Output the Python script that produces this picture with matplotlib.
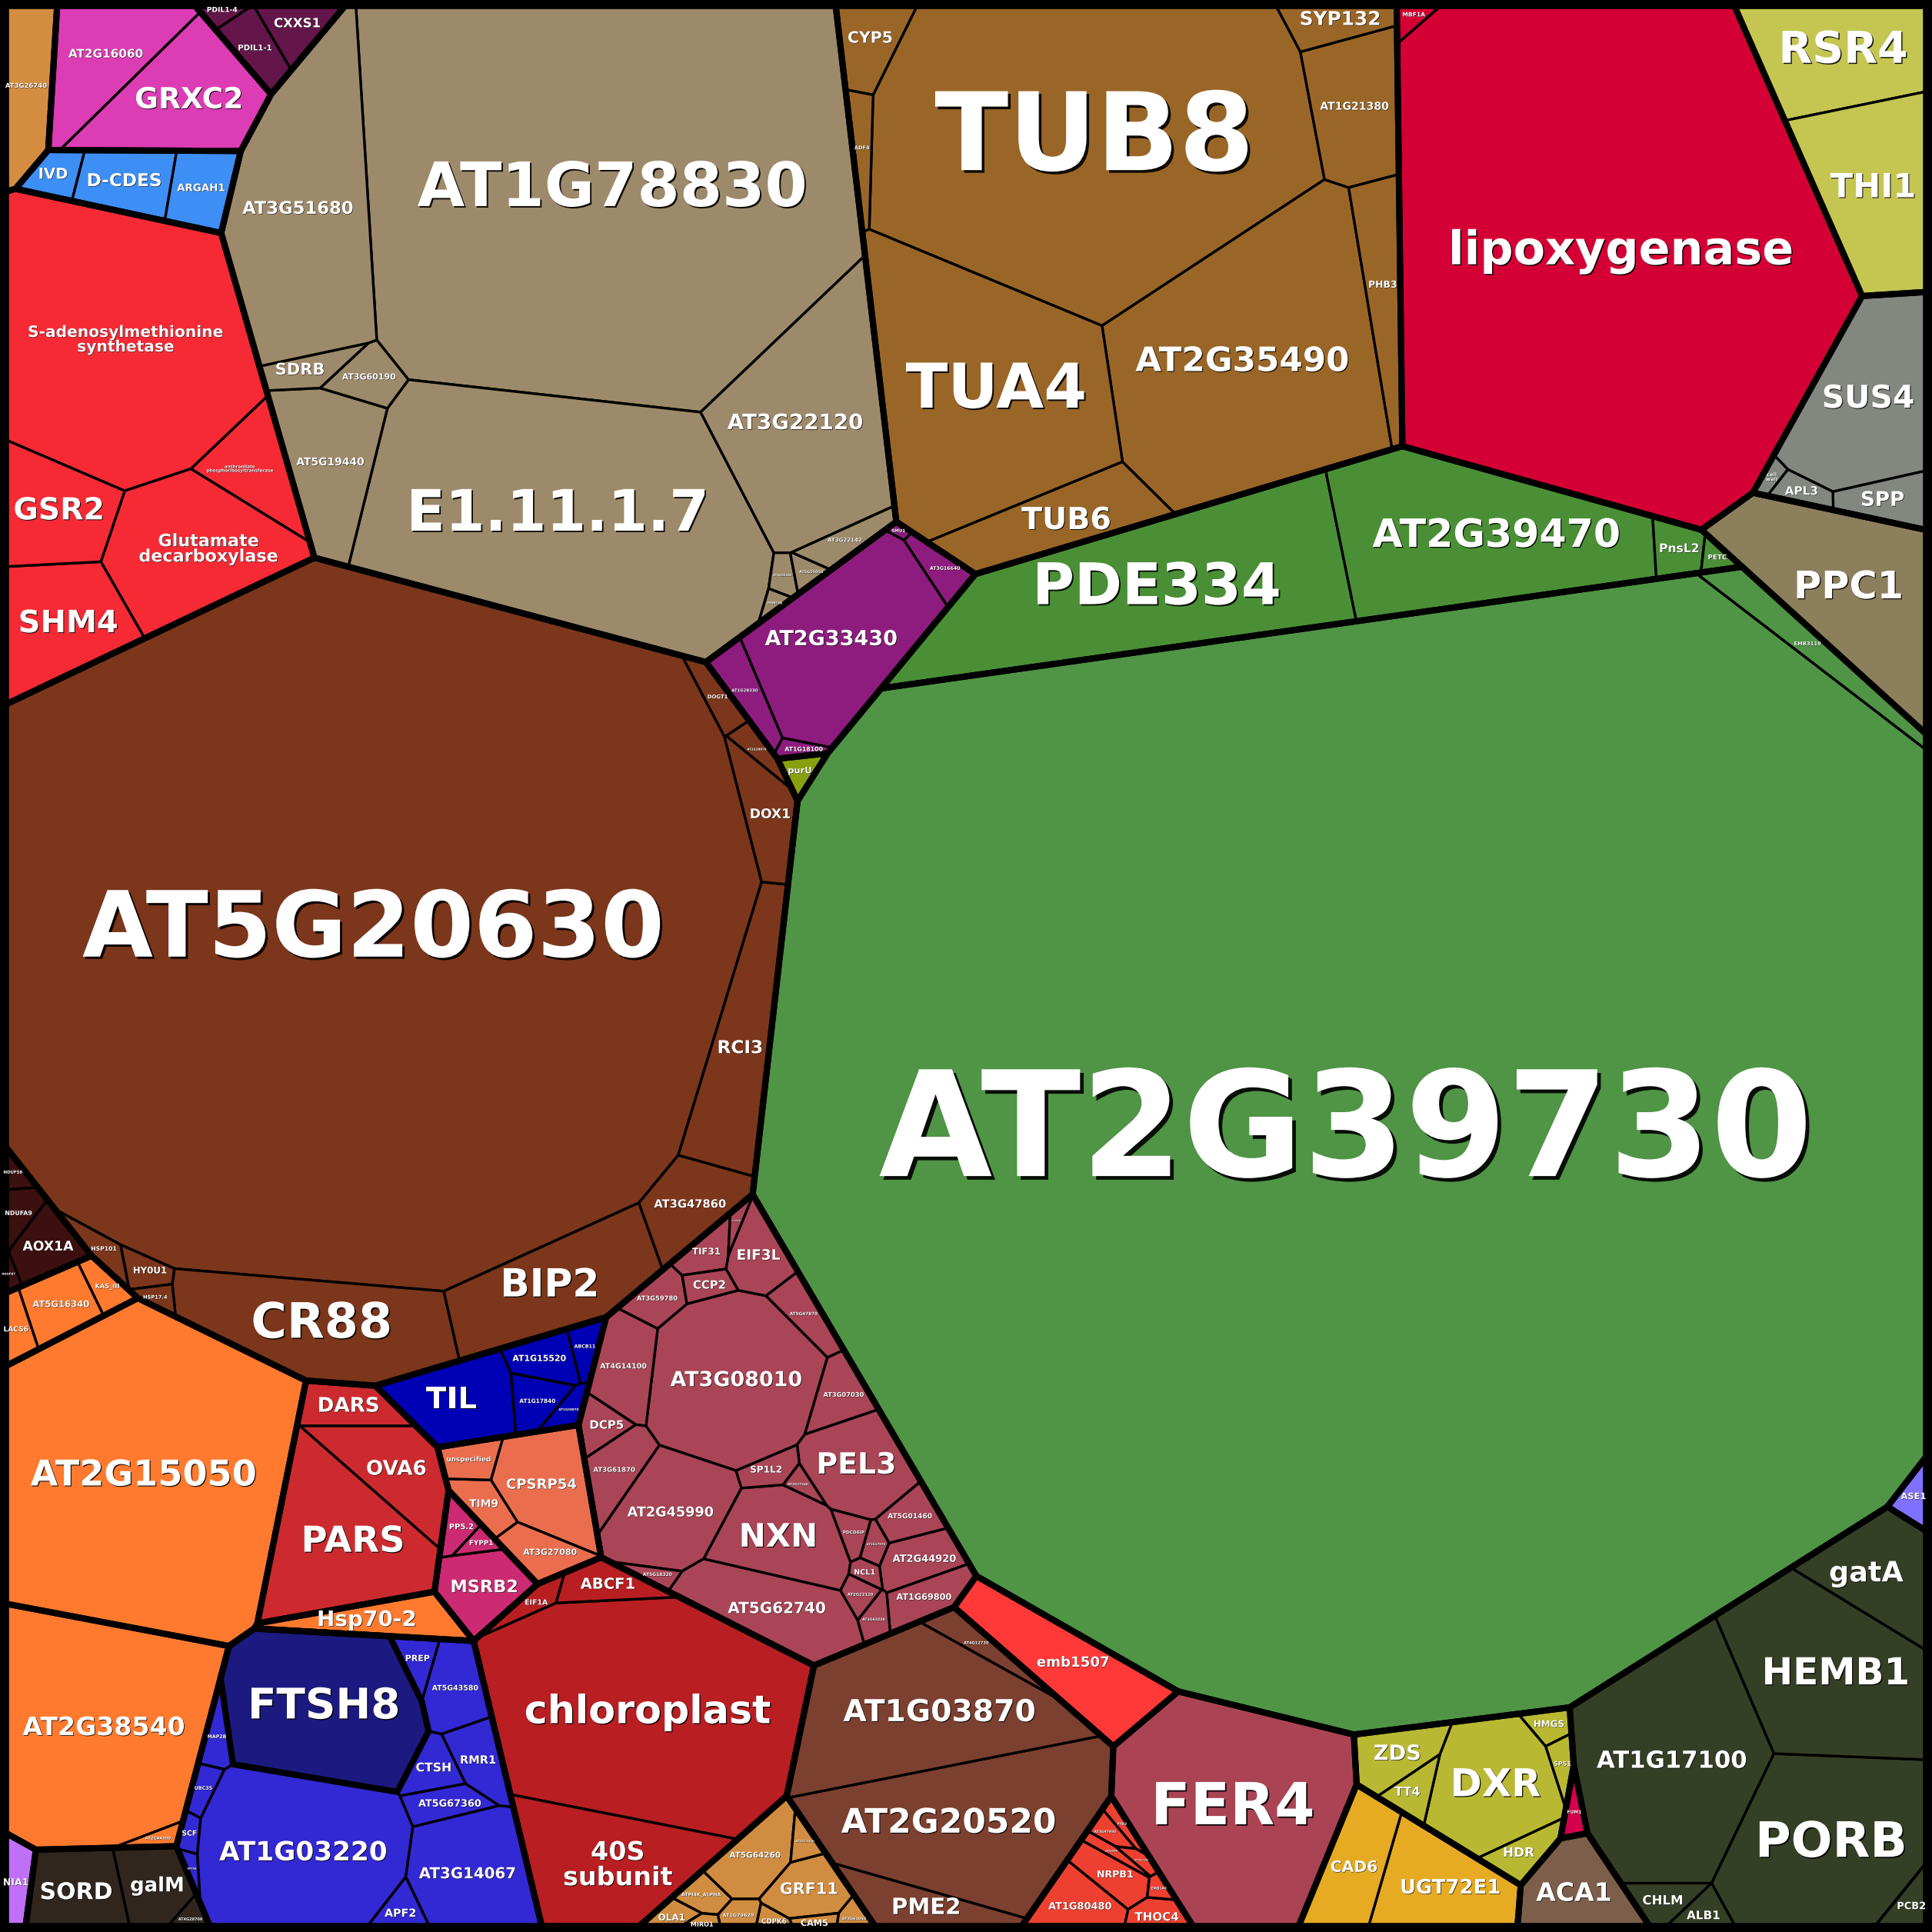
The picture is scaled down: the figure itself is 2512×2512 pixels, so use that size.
import math
import re
import numpy as np
import matplotlib
matplotlib.use("Agg")
import matplotlib.pyplot as plt
import matplotlib.patheffects as pe
from matplotlib.patches import Polygon, Rectangle
from matplotlib.textpath import TextPath
from matplotlib.font_manager import FontProperties

# ----------------------------------------------------------------------
# Data: protein names and abundances (cell areas), one list pair per group
# ----------------------------------------------------------------------
ORANGETAN = ["AT3G26740"]
ORANGETAN_V = [5800]
MAGENTA = ["AT2G16060", "GRXC2"]
MAGENTA_V = [7800, 9950]
DARKPURPLE = ["CXXS1", "PDIL1-1", "PDIL1-4"]
DARKPURPLE_V = [2200, 1900, 650]
TAN = ["AT1G78830", "E1.11.1.7", "AT3G51680", "AT3G22120", "AT5G19440", "AT3G60190",
       "SDRB", "AT3G22142", "AT4G25260", "AT5G55050", "PRMT4B"]
TAN_V = [114500, 53100, 24050, 21100, 8300, 2000, 1600, 1500, 600, 500, 300]
BRONZE = ["TUB8", "AT2G35490", "TUA4", "AT1G21380", "TUB6", "PHB3", "CYP5", "SYP132", "ADF4"]
BRONZE_V = [72100, 40200, 33400, 7800, 7500, 5200, 3300, 2800, 1500]
CRIMSON = ["lipoxygenase", "MBF1A"]
CRIMSON_V = [123600, 700]
YELLOWGREEN = ["RSR4", "THI1"]
YELLOWGREEN_V = [11800, 13300]
GREY = ["SUS4", "SPP", "APL3", "cell wall"]
GREY_V = [13900, 2500, 900, 400]
OLIVE = ["PPC1"]
OLIVE_V = [17830]
GREEN_A = ["PDE334", "AT2G39470", "PnsL2", "PETC"]
GREEN_A_V = [32900, 24700, 1600, 500]
GREEN_B = ["AT2G39730", "EMB3119"]
GREEN_B_V = [700000, 4000]
PURU = ["purU"]
PURU_V = [700]
PURPLE = ["AT2G33430", "AT1G28330", "AT3G16640", "AT1G18100", "SMU1"]
PURPLE_V = [15500, 2000, 1300, 450, 150]
BROWN = ["AT5G20630", "CR88", "BIP2", "RCI3", "AT3G47860", "DOX1", "DOGT1", "AT2G38870",
         "HSP101", "HY0U1", "HSP17.4"]
BROWN_V = [283900, 14700, 11100, 9600, 4500, 3500, 1200, 800, 1000, 900, 500]
RED = ["S-adenosylmethionine synthetase", "Glutamate decarboxylase", "SHM4", "GSR2",
       "anthranilate phosphoribosyltransferase"]
RED_V = [39000, 13150, 8900, 7300, 4500]
BLUE = ["IVD", "D-CDES", "ARGAH1"]
BLUE_V = [1400, 3600, 2950]
MAROON = ["AOX1A", "NDUFA9", "NDUFS8", "NDUFB7"]
MAROON_V = [2300, 1200, 600, 400]
ORANGE1 = ["AT5G16340", "LACS6", "KAS_III"]
ORANGE1_V = [2700, 1300, 1000]
ORANGE2 = ["AT2G15050"]
ORANGE2_V = [51900]
ORANGE3 = ["AT2G38540", "AT2G44300"]
ORANGE3_V = [28200, 500]
HSP = ["Hsp70-2"]
HSP_V = [3500]
RED2A = ["PARS", "OVA6", "DARS"]
RED2A_V = [12900, 5500, 2500]
PINK = ["MSRB2", "PP5.2", "FYPP1"]
PINK_V = [3600, 900, 450]
SALMON = ["CPSRP54", "AT3G27080", "TIM9", "unspecified"]
SALMON_V = [5800, 2000, 1400, 1300]
DARKBLUE = ["TIL", "AT1G15520", "AT1G17840", "ABCB11", "AT1G59870"]
DARKBLUE_V = [5500, 1800, 1500, 900, 700]
MAUVE = ["AT3G08010", "AT2G45990", "AT5G62740", "NXN", "PEL3", "AT4G14100", "EIF3L",
         "AT3G61870", "AT2G44920", "AT3G07030", "AT1G69800", "AT5G47870", "AT3G59780",
         "AT5G01460", "TIF31", "DCP5", "SP1L2", "CCP2", "PDCD6IP", "AT1G63220",
         "AT2G22120", "AT2G17970", "AT2G17240", "NCL1", "AT5G18320", "AT3G08800"]
MAUVE_V = [15200, 7400, 7000, 6400, 5500, 3500, 2500, 2500, 2200, 2000, 2000, 1600, 1500,
           1500, 1200, 1200, 1000, 800, 700, 700, 600, 500, 400, 400, 500, 300]
RED2B = ["chloroplast", "40S subunit", "ABCF1", "EIF1A"]
RED2B_V = [39000, 12000, 2000, 900]
BPURPLE = ["AT1G03220", "FTSH8", "AT3G14067", "AT5G43580", "RMR1", "CTSH", "AT5G67360",
           "APF2", "PREP", "MAP2B", "UBC35", "SCF", "RPT5A"]
BPURPLE_V = [19000, 17000, 8500, 3000, 2200, 1500, 1500, 1200, 1000, 1000, 700, 450, 300]
SORD = ["SORD", "galM", "AT4G28706"]
SORD_V = [4800, 3300, 600]
NIA = ["NIA1"]
NIA_V = [1800]
TAN2 = ["AT5G64260", "GRF11", "ATPI4K_ALPHA", "OLA1", "AT1G79620", "AT3G61050", "CAM5",
        "CDPK6", "MIRO1", "AT1G11340"]
TAN2_V = [3200, 2500, 900, 750, 750, 580, 460, 460, 380, 580]
BROWN2 = ["AT2G20520", "AT1G03870", "PME2", "AT4G12730"]
BROWN2_V = [22000, 19500, 4000, 1500]
EMB = ["emb1507"]
EMB_V = [8400]
FER = ["FER4"]
FER_V = [27000]
RED3 = ["AT1G80480", "NRPB1", "THOC4", "AT1G47490", "PTB3", "LKR/SDH", "AT5G61190", "EMB140"]
RED3_V = [2900, 1650, 1200, 500, 400, 400, 300, 300]
YELLOW = ["DXR", "ZDS", "HDR", "TT4", "HMGS", "SPS1"]
YELLOW_V = [9000, 2800, 1500, 1200, 800, 700]
GOLD = ["UGT72E1", "CAD6"]
GOLD_V = [7500, 5300]
FUM = ["FUM1"]
FUM_V = [600]
ACA = ["ACA1"]
ACA_V = [5500]
DARKOLIVE = ["AT1G17100", "PORB", "HEMB1", "gatA", "CHLM", "PCB2", "ALB1"]
DARKOLIVE_V = [23500, 20000, 18200, 7000, 1500, 1500, 1200]
ASE = ["ASE1"]
ASE_V = [1200]

# ----------------------------------------------------------------------
# Layout hints: starting site of every cell (canvas units, 1568 wide, y down)
# ----------------------------------------------------------------------
ORANGETAN_XY = [(28, 78)]
MAGENTA_XY = [(95, 50), (150, 106)]
DARKPURPLE_XY = [(228, 25), (192, 47), (160, 47)]
TAN_XY = [(490, 160), (460, 430), (250, 175), (652, 330), (278, 385), (300, 312),
          (273, 283), (695, 425), (652, 458), (683, 452), (642, 484)]
BRONZE_XY = [(870, 110), (985, 285), (785, 315), (1055, 75), (835, 437), (1105, 265),
             (712, 32), (1040, 20), (698, 105)]
CRIMSON_XY = [(1290, 200), (1128, 15)]
YELLOWGREEN_XY = [(1485, 48), (1508, 160)]
GREY_XY = [(1512, 305), (1530, 385), (1472, 386), (1433, 372)]
OLIVE_XY = [(1480, 465)]
GREEN_A_XY = [(910, 490), (1180, 435), (1345, 425), (1372, 428)]
GREEN_B_XY = [(1100, 925), (1430, 495)]
PURU_XY = [(682, 625)]
PURPLE_XY = [(675, 535), (597, 568), (757, 481), (652, 645), (722, 447)]
BROWN_XY = [(300, 770), (275, 1068), (420, 1035), (595, 860), (560, 985), (612, 690),
            (600, 612), (634, 663), (143, 1060), (174, 1054), (177, 1078)]
RED_XY = [(105, 280), (160, 445), (55, 505), (50, 408), (200, 380)]
BLUE_XY = [(32, 160), (98, 170), (168, 182)]
MAROON_XY = [(51, 1037), (20, 1009), (17, 968), (16, 1056)]
ORANGE1_XY = [(64, 1082), (20, 1090), (103, 1063)]
ORANGE2_XY = [(122, 1200)]
ORANGE3_XY = [(85, 1390), (122, 1487)]
HSP_XY = [(300, 1305)]
RED2A_XY = [(268, 1262), (318, 1205), (318, 1146)]
PINK_XY = [(378, 1262), (370, 1215), (360, 1173)]
SALMON_XY = [(443, 1186), (419, 1245), (397, 1215), (386, 1157)]
DARKBLUE_XY = [(375, 1118), (443, 1087), (438, 1113), (484, 1062), (462, 1133)]
MAUVE_XY = [(605, 1095), (570, 1200), (630, 1305), (645, 1240), (707, 1170), (522, 1085),
            (623, 1003), (512, 1160), (750, 1243), (690, 1120), (762, 1277), (655, 1045),
            (550, 1030), (742, 1212), (582, 996), (492, 1130), (640, 1178), (586, 1024),
            (693, 1222), (716, 1281), (697, 1266), (714, 1228), (665, 1197), (705, 1249),
            (562, 1258), (608, 968)]
RED2B_XY = [(515, 1370), (487, 1512), (510, 1232), (466, 1245)]
BPURPLE_XY = [(250, 1497), (270, 1378), (378, 1515), (372, 1355), (390, 1407), (357, 1423),
              (362, 1450), (313, 1546), (347, 1322), (186, 1390), (170, 1458), (154, 1488),
              (150, 1503)]
SORD_XY = [(60, 1535), (120, 1522), (152, 1550)]
NIA_XY = [(14, 1521)]
TAN2_XY = [(610, 1494), (653, 1531), (580, 1525), (569, 1546), (610, 1552), (681, 1554),
           (655, 1550), (638, 1558), (577, 1559), (644, 1497)]
BROWN2_XY = [(750, 1478), (733, 1392), (730, 1548), (773, 1320)]
EMB_XY = [(848, 1322)]
FER_XY = [(958, 1452)]
RED3_XY = [(835, 1538), (838, 1503), (885, 1543), (870, 1487), (862, 1464), (850, 1481),
           (878, 1502), (887, 1519)]
YELLOW_XY = [(1180, 1445), (1105, 1416), (1207, 1503), (1068, 1421), (1233, 1400), (1245, 1424)]
GOLD_XY = [(1150, 1527), (1075, 1505)]
FUM_XY = [(1258, 1457)]
ACA_XY = [(1272, 1530)]
DARKOLIVE_XY = [(1340, 1425), (1475, 1490), (1480, 1365), (1527, 1288), (1340, 1532),
                (1543, 1545), (1360, 1553)]
ASE_XY = [(1550, 1237)]

GROUPS = [
    ("orangetan", "#d38c40", ORANGETAN, ORANGETAN_V, ORANGETAN_XY),
    ("magenta", "#dc3cb4", MAGENTA, MAGENTA_V, MAGENTA_XY),
    ("darkpurple", "#64154a", DARKPURPLE, DARKPURPLE_V, DARKPURPLE_XY),
    ("tan", "#9d8a6a", TAN, TAN_V, TAN_XY),
    ("bronze", "#9a6628", BRONZE, BRONZE_V, BRONZE_XY),
    ("crimson", "#d40035", CRIMSON, CRIMSON_V, CRIMSON_XY),
    ("yellowgreen", "#c5c652", YELLOWGREEN, YELLOWGREEN_V, YELLOWGREEN_XY),
    ("grey", "#828880", GREY, GREY_V, GREY_XY),
    ("olive", "#8c7f5c", OLIVE, OLIVE_V, OLIVE_XY),
    ("greenA", "#4a8f35", GREEN_A, GREEN_A_V, GREEN_A_XY),
    ("greenB", "#509446", GREEN_B, GREEN_B_V, GREEN_B_XY),
    ("purU", "#88a010", PURU, PURU_V, PURU_XY),
    ("purple", "#8e1c7e", PURPLE, PURPLE_V, PURPLE_XY),
    ("brown", "#7b361b", BROWN, BROWN_V, BROWN_XY),
    ("red", "#f52a35", RED, RED_V, RED_XY),
    ("blue", "#3d8ef5", BLUE, BLUE_V, BLUE_XY),
    ("maroon", "#3c1010", MAROON, MAROON_V, MAROON_XY),
    ("orange1", "#ff7a2e", ORANGE1, ORANGE1_V, ORANGE1_XY),
    ("orange2", "#ff7a2e", ORANGE2, ORANGE2_V, ORANGE2_XY),
    ("orange3", "#ff7a2e", ORANGE3, ORANGE3_V, ORANGE3_XY),
    ("hsp", "#ff7a2e", HSP, HSP_V, HSP_XY),
    ("red2a", "#cc2a2e", RED2A, RED2A_V, RED2A_XY),
    ("pink", "#cc2a72", PINK, PINK_V, PINK_XY),
    ("salmon", "#ea6e4e", SALMON, SALMON_V, SALMON_XY),
    ("darkblue", "#0000b4", DARKBLUE, DARKBLUE_V, DARKBLUE_XY),
    ("mauve", "#a94556", MAUVE, MAUVE_V, MAUVE_XY),
    ("red2b", "#b81e22", RED2B, RED2B_V, RED2B_XY),
    ("bpurple", "#3228d4", BPURPLE, BPURPLE_V, BPURPLE_XY),
    ("sord", "#30261e", SORD, SORD_V, SORD_XY),
    ("nia", "#c070f8", NIA, NIA_V, NIA_XY),
    ("tan2", "#d08c40", TAN2, TAN2_V, TAN2_XY),
    ("brown2", "#7c4030", BROWN2, BROWN2_V, BROWN2_XY),
    ("emb", "#ff3838", EMB, EMB_V, EMB_XY),
    ("fer", "#aa4454", FER, FER_V, FER_XY),
    ("red3", "#ee4030", RED3, RED3_V, RED3_XY),
    ("yellow", "#b9b832", YELLOW, YELLOW_V, YELLOW_XY),
    ("gold", "#e6ab22", GOLD, GOLD_V, GOLD_XY),
    ("fum", "#d4004e", FUM, FUM_V, FUM_XY),
    ("aca", "#7c5e4a", ACA, ACA_V, ACA_XY),
    ("darkolive", "#343f26", DARKOLIVE, DARKOLIVE_V, DARKOLIVE_XY),
    ("ase", "#8070ff", ASE, ASE_V, ASE_XY),
]
# groups that sit together inside one top-level cell
CLUSTER = {"greenA": "green", "greenB": "green"}
# small nudges of a group's site (canvas units)
GROUP_SHIFT = {"blue": (35, 6), "magenta": (22, 4)}
LEAF_COLOR = {"FTSH8": "#1c1a80"}
THICK_LEAVES = {"FTSH8"}

S = 1568.0
PT = 2512.0 / S * 0.72          # points per canvas unit
LW_GROUP = 5.8
LW_LEAF = 2.4


# ----------------------------------------------------------------------
# Power diagram (weighted Voronoi) with area targets -> Voronoi treemap
# ----------------------------------------------------------------------
def clip(pts, labs, a, b, c, lab):
    out_p, out_l = [], []
    n = len(pts)
    for k in range(n):
        x1, y1 = pts[k]
        x2, y2 = pts[(k + 1) % n]
        d1 = a * x1 + b * y1 - c
        d2 = a * x2 + b * y2 - c
        if d1 <= 0:
            out_p.append((x1, y1))
            out_l.append(labs[k])
            if d2 > 0:
                t = d1 / (d1 - d2)
                out_p.append((x1 + t * (x2 - x1), y1 + t * (y2 - y1)))
                out_l.append(lab)
        elif d2 <= 0:
            t = d1 / (d1 - d2)
            out_p.append((x1 + t * (x2 - x1), y1 + t * (y2 - y1)))
            out_l.append(labs[k])
    return out_p, out_l


def power_cells(poly, sites, w):
    n = len(sites)
    cells = []
    for i in range(n):
        xi, yi = sites[i]
        pts, labs = list(poly), [-1] * len(poly)
        order = sorted(range(n), key=lambda j: (sites[j][0] - xi) ** 2 + (sites[j][1] - yi) ** 2)
        for j in order:
            if j == i:
                continue
            xj, yj = sites[j]
            a = 2 * (xj - xi)
            b = 2 * (yj - yi)
            c = xj * xj + yj * yj - xi * xi - yi * yi - w[j] + w[i]
            pts, labs = clip(pts, labs, a, b, c, j)
            if len(pts) < 3:
                break
        cells.append((pts, labs))
    return cells


def poly_area(pts):
    n = len(pts)
    if n < 3:
        return 0.0
    s = 0.0
    for k in range(n):
        x1, y1 = pts[k]
        x2, y2 = pts[(k + 1) % n]
        s += x1 * y2 - x2 * y1
    return abs(s) / 2


def centroid(pts):
    p = np.asarray(pts, float)
    x, y = p[:, 0], p[:, 1]
    x2, y2 = np.roll(x, -1), np.roll(y, -1)
    cr = x * y2 - x2 * y
    a = cr.sum() / 2
    if abs(a) < 1e-9:
        return x.mean(), y.mean()
    return ((x + x2) * cr).sum() / (6 * a), ((y + y2) * cr).sum() / (6 * a)


def layout(poly, sites, values, iters=120, tol=0.003):
    n = len(sites)
    if n == 1:
        return [list(poly)]
    total = poly_area(poly)
    T = np.asarray(values, float)
    T = T / T.sum() * total
    w = np.zeros(n)
    cells = power_cells(poly, sites, w)
    A = np.array([poly_area(c[0]) for c in cells])
    eps = 0.25 * min(T.min(), A.min())
    err = np.linalg.norm(T - A)
    for _ in range(iters):
        if np.all(np.abs(T - A) <= tol * T):
            break
        J = np.zeros((n, n))
        for i, (pts, labs) in enumerate(cells):
            m = len(pts)
            for k in range(m):
                j = labs[k]
                if j < 0:
                    continue
                x1, y1 = pts[k]
                x2, y2 = pts[(k + 1) % m]
                L = math.hypot(x2 - x1, y2 - y1)
                d = math.hypot(sites[i][0] - sites[j][0], sites[i][1] - sites[j][1])
                g = L / (2 * d)
                J[i, j] -= g
                J[i, i] += g
        dw = np.linalg.lstsq(J + 1.0 / n, T - A, rcond=None)[0]
        alpha, ok = 1.0, False
        while alpha > 1e-5:
            w2 = w + alpha * dw
            c2 = power_cells(poly, sites, w2)
            A2 = np.array([poly_area(c[0]) for c in c2])
            e2 = np.linalg.norm(T - A2)
            if A2.min() > eps and e2 <= (1 - alpha / 2) * err:
                ok = True
                break
            alpha *= 0.5
        if not ok:
            break
        w, cells, A, err = w2, c2, A2, e2
    return [c[0] for c in cells]


def inside(pts, x, y):
    res = False
    n = len(pts)
    for k in range(n):
        x1, y1 = pts[k]
        x2, y2 = pts[(k + 1) % n]
        if (y1 > y) != (y2 > y):
            if x < x1 + (y - y1) * (x2 - x1) / (y2 - y1):
                res = not res
    return res


def pull_inside(pts, x, y):
    cx, cy = centroid(pts)
    t = 1.0
    while t > 0 and not inside(pts, cx + t * (x - cx), cy + t * (y - cy)):
        t -= 0.04
    if t < 1.0:
        t = max(t * 0.9, 0.0)
    return cx + t * (x - cx), cy + t * (y - cy)


def seeds_in(poly, xy):
    out = []
    for k, (x, y) in enumerate(xy):
        sx, sy = pull_inside(poly, x, y)
        out.append((sx + 0.013 * k, sy + 0.007 * k))
    return out


def weighted_seed(vals, xy):
    v = np.asarray(vals, float)
    p = np.asarray(xy, float)
    return tuple((p * v[:, None]).sum(0) / v.sum())


def group_seed(g):
    x, y = weighted_seed(g[3], g[4])
    dx, dy = GROUP_SHIFT.get(g[0], (0, 0))
    return (x + dx, y + dy)


# ----------------------------------------------------------------------
# Label fitting
# ----------------------------------------------------------------------
FP = FontProperties(family="DejaVu Sans", weight="bold")
_wc = {}


def text_w(line):
    if line not in _wc:
        _wc[line] = TextPath((0, 0), line, size=1, prop=FP).get_extents().width
    return _wc[line]


def chord(pts, v, axis):
    hits = []
    n = len(pts)
    o = 1 - axis
    for k in range(n):
        p, q = pts[k], pts[(k + 1) % n]
        if (p[axis] <= v < q[axis]) or (q[axis] <= v < p[axis]):
            hits.append(p[o] + (v - p[axis]) * (q[o] - p[o]) / (q[axis] - p[axis]))
    if len(hits) < 2:
        return None
    return min(hits), max(hits)


def variants(name):
    out = [[name]]
    words = name.split(" ")
    if len(words) > 1:
        out.append(words)
    parts = []
    for wd in words:
        parts += [p for p in re.split(r"(?<=-)", wd) if p]
    if len(parts) > len(words) and (len(words) > 1 or len(parts[0]) >= 4):
        out.append(parts)
    return out


def fit_label(pts, area, name):
    cx, cy = centroid(pts)
    ch = chord(pts, cy, 1)
    if ch is None:
        return None
    cx = 0.5 * (ch[0] + ch[1])
    best = None
    for lines in variants(name):
        wpe = max(text_w(l) for l in lines)
        n = len(lines)
        hpe = 0.9 if n == 1 else 1.17 * n - 0.15
        s_top = 0.32 * math.sqrt(area)
        s = s_top
        for _ in range(4):
            h = s * hpe
            av = 1e9
            for yy in np.linspace(cy - h / 2, cy + h / 2, 7):
                c = chord(pts, yy, 1)
                if c is None:
                    av = 0
                    break
                av = min(av, 2 * min(cx - c[0], c[1] - cx))
            s = min(s_top, 0.8 * max(av, 0) / wpe)
        cv = chord(pts, cx, 0)
        if cv is not None:
            s = min(s, 0.8 * 2 * min(cy - cv[0], cv[1] - cy) / hpe)
        score = s / (1 + 0.25 * (n - 1))
        if best is None or score > best[0]:
            best = (score, s, lines)
    return cx, cy, best[1], "\n".join(best[2])


# ----------------------------------------------------------------------
# Build the treemap: top cells -> groups -> proteins
# ----------------------------------------------------------------------
square = [(0.0, 0.0), (S, 0.0), (S, S), (0.0, S)]
units = {}
for gi, g in enumerate(GROUPS):
    units.setdefault(CLUSTER.get(g[0], g[0]), []).append(gi)
unit_keys = list(units)
unit_vals = [sum(sum(GROUPS[gi][3]) for gi in units[k]) for k in unit_keys]
unit_seeds = [weighted_seed([sum(GROUPS[gi][3]) for gi in units[k]],
                            [group_seed(GROUPS[gi]) for gi in units[k]])
              for k in unit_keys]
ucells = layout(square, unit_seeds, unit_vals)

gcells = [None] * len(GROUPS)
for key, ucell in zip(unit_keys, ucells):
    members = units[key]
    if len(members) == 1:
        gcells[members[0]] = ucell
        continue
    mseeds = seeds_in(ucell, [group_seed(GROUPS[gi]) for gi in members])
    sub = layout(ucell, mseeds, [sum(GROUPS[gi][3]) for gi in members])
    for gi, c in zip(members, sub):
        gcells[gi] = c

leaf_polys = []
for gi, (gid, color, names, vals, xy) in enumerate(GROUPS):
    gpoly = gcells[gi]
    cells = layout(gpoly, seeds_in(gpoly, xy), vals)
    for name, cell in zip(names, cells):
        leaf_polys.append((name, LEAF_COLOR.get(name, color), cell))

fig = plt.figure(figsize=(25.12, 25.12), dpi=100, facecolor="black")
ax = fig.add_axes([0, 0, 1, 1])
ax.set_xlim(0, S)
ax.set_ylim(S, 0)
ax.axis("off")

for name, color, cell in leaf_polys:
    if len(cell) < 3:
        continue
    ax.add_patch(Polygon(cell, closed=True, facecolor=color, edgecolor="black",
                         lw=LW_LEAF, joinstyle="round"))
for cell in gcells:
    ax.add_patch(Polygon(cell, closed=True, fill=False, edgecolor="black",
                         lw=LW_GROUP, joinstyle="round"))
for name, color, cell in leaf_polys:
    if name in THICK_LEAVES and len(cell) >= 3:
        ax.add_patch(Polygon(cell, closed=True, fill=False, edgecolor="black",
                             lw=LW_GROUP, joinstyle="round"))
ax.add_patch(Rectangle((0, 0), S, S, fill=False, edgecolor="black", lw=17))

for name, color, cell in leaf_polys:
    if len(cell) < 3:
        continue
    res = fit_label(cell, poly_area(cell), name)
    if res is None:
        continue
    x, y, s, txt = res
    fs = s * PT
    if fs < 1.0:
        continue
    d = max(0.35, 0.025 * fs)
    ax.text(x, y, txt, ha="center", va="center", multialignment="center",
            fontsize=fs, color="white", fontweight="bold", family="DejaVu Sans",
            linespacing=1.0,
            path_effects=[pe.withSimplePatchShadow(offset=(d, -d), shadow_rgbFace="black",
                                                   alpha=0.9)])

fig.savefig("out.png", dpi=100, facecolor="black")
